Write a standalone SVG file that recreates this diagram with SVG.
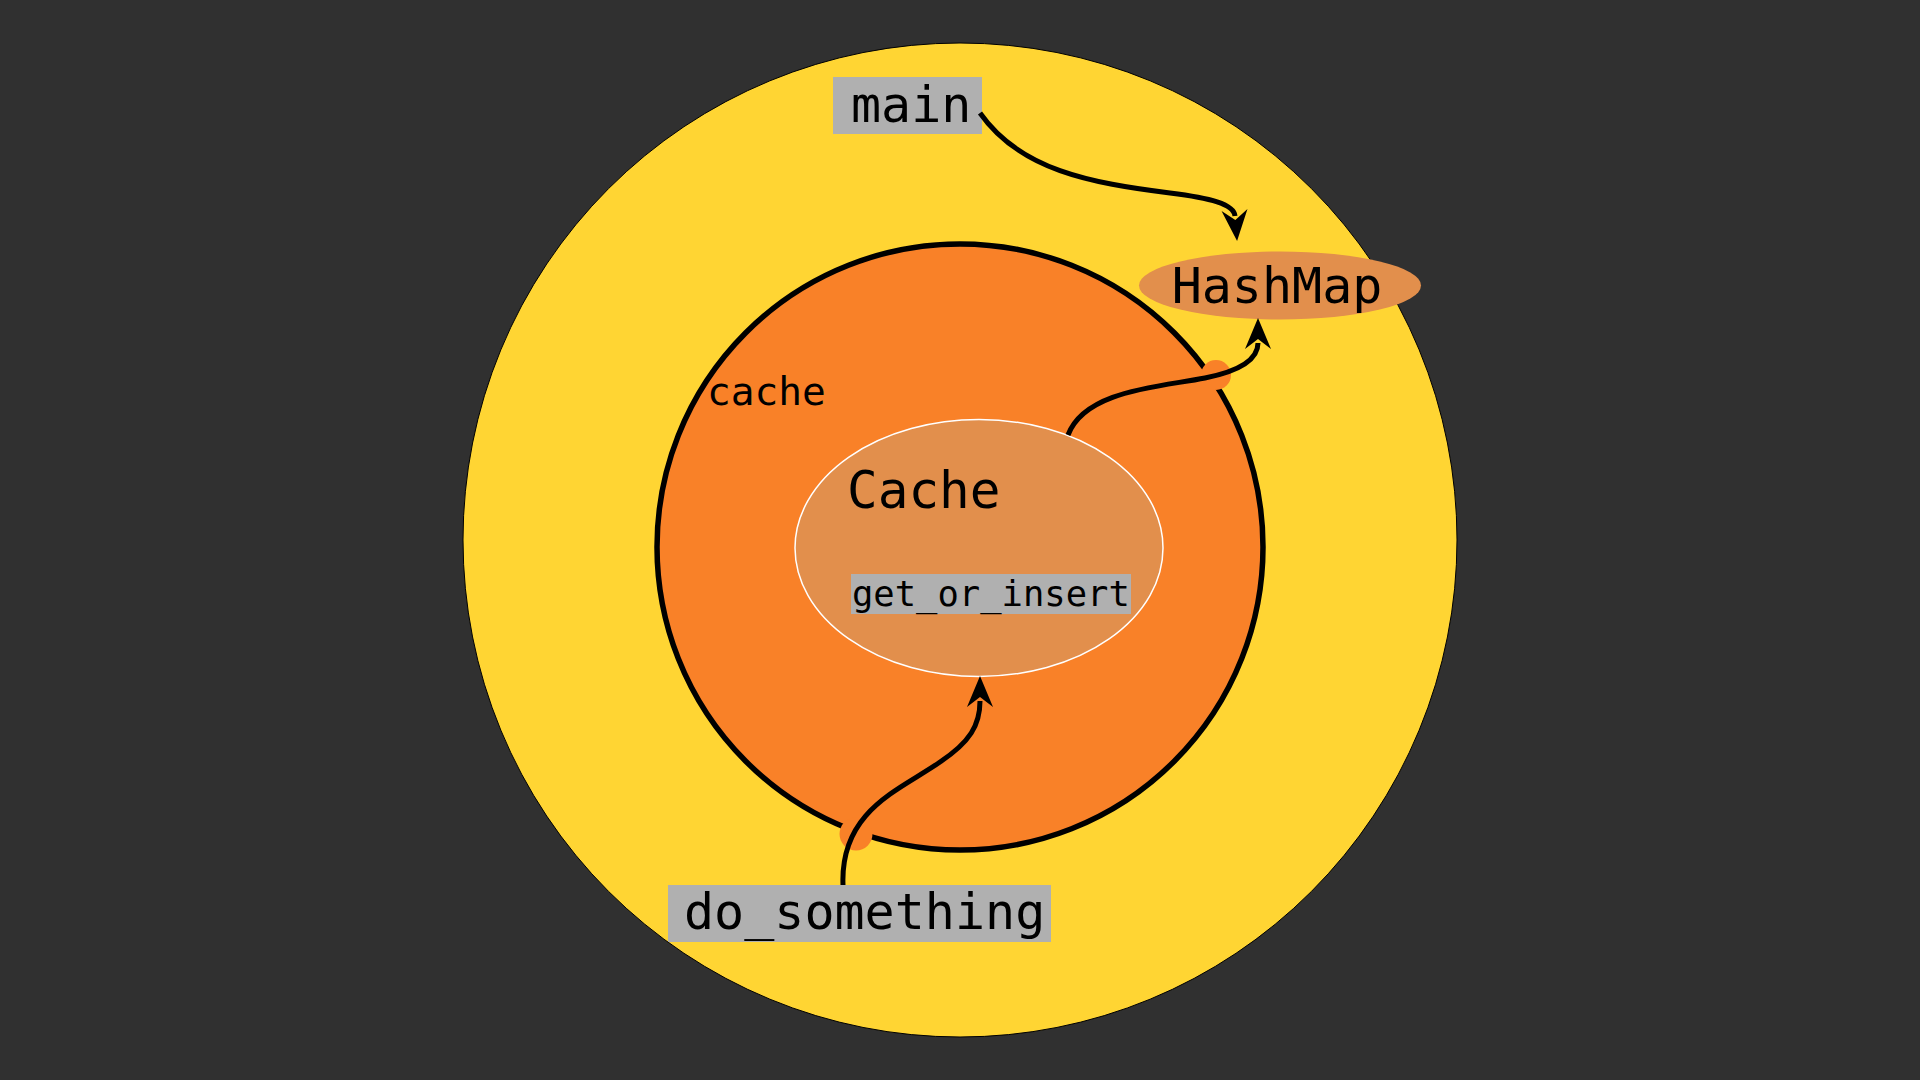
<svg xmlns="http://www.w3.org/2000/svg" width="1920" height="1080" viewBox="0 0 1920 1080">
  <defs>
    <style>
      .mono { font-family: "DejaVu Sans Mono", "Liberation Mono", monospace; fill: #000; }
      .label { fill: #b0b0b0; }
      .conn { fill: none; stroke: #000; stroke-width: 5; }
      .blob { fill: #f98128; }
    </style>
    <marker id="arrow" markerUnits="userSpaceOnUse" viewBox="-10 -14 40 28" refX="0" refY="0" markerWidth="40" markerHeight="28" orient="auto" overflow="visible">
      <path d="M 25 0 L -6 -13 L 4 0 L -6 13 Z" fill="#000"/>
    </marker>
  </defs>
  <rect x="0" y="0" width="1920" height="1080" fill="#303030"/>

  <g id="outer-scope">
    <circle cx="960" cy="540" r="497" fill="#ffd533" stroke="#000" stroke-width="1"/>
  </g>

  <g id="cache-scope">
    <circle cx="960" cy="547" r="303" fill="#f98128" stroke="#000" stroke-width="5.5"/>
    <text class="mono" x="707" y="405" font-size="39.5">cache</text>
  </g>

  <g id="ports">
    <circle class="blob" cx="1216" cy="375" r="15"/>
    <circle class="blob" cx="856" cy="834" r="16.5"/>
  </g>

  <g id="cache-struct">
    <ellipse cx="979" cy="548" rx="184" ry="128.5" fill="#e28f4c" stroke="#ffffff" stroke-width="1.5"/>
    <text class="mono" x="847" y="508" font-size="51">Cache</text>
  </g>

  <g id="get_or_insert">
    <rect class="label" x="851" y="574" width="280" height="40"/>
    <text class="mono" x="852" y="606" font-size="35.5">get_or_insert</text>
  </g>

  <g id="hashmap">
    <ellipse cx="1280" cy="285.5" rx="141" ry="34" fill="#e28f4c"/>
    <text class="mono" x="1277" y="303" font-size="50" text-anchor="middle">HashMap</text>
  </g>

  <g id="main">
    <rect class="label" x="833" y="77" width="149" height="57"/>
    <text class="mono" x="851" y="122" font-size="50">main</text>
  </g>

  <g id="do_something">
    <rect class="label" x="668" y="885" width="383" height="57"/>
    <text class="mono" x="684" y="929" font-size="50">do_something</text>
  </g>

  <g id="connectors">
    <path class="conn" d="M 980 113 C 1020 170, 1090 183, 1170 193 C 1210 198, 1234 204, 1235 216" marker-end="url(#arrow)"/>
    <path class="conn" d="M 1068 435 C 1085 390, 1160 387, 1205 378 C 1240 371, 1258 360, 1258 343" marker-end="url(#arrow)"/>
    <path class="conn" d="M 843 885 C 840 810, 900 790, 940 762 C 970 742, 980 725, 980 701" marker-end="url(#arrow)"/>
  </g>
</svg>
